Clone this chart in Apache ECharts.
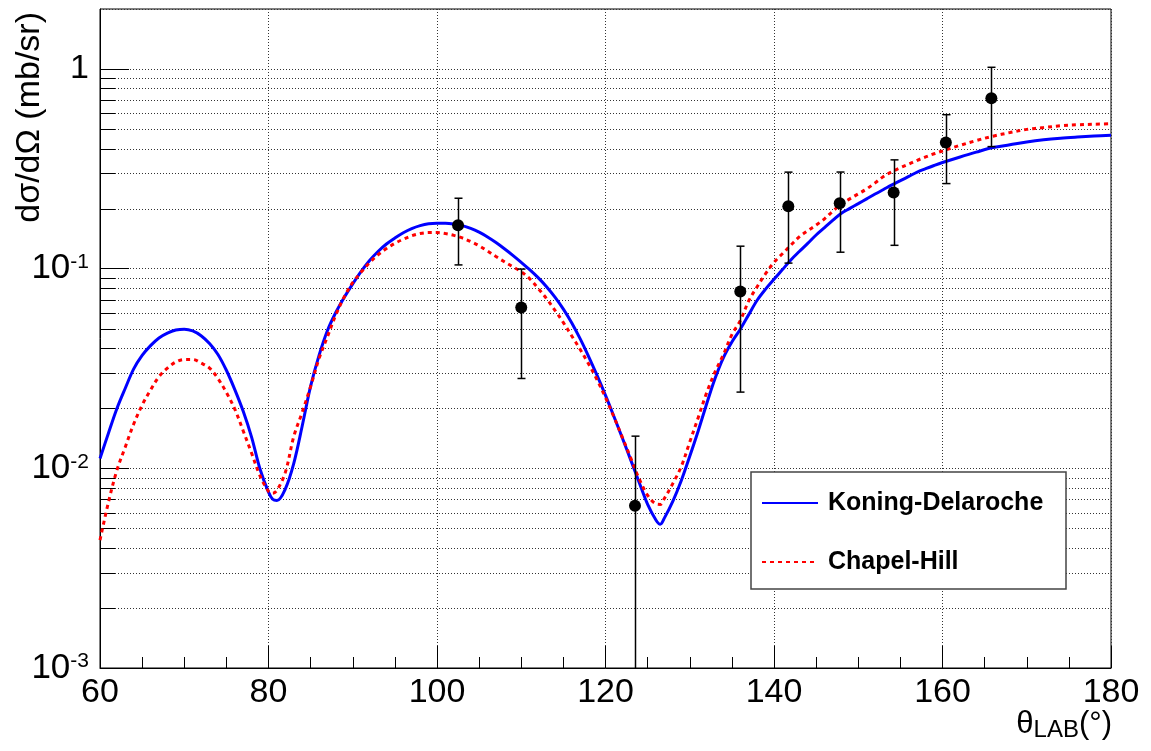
<!DOCTYPE html>
<html><head><meta charset="utf-8">
<script src="https://cdn.jsdelivr.net/npm/echarts@6/dist/echarts.min.js"></script>
<style>html,body{margin:0;padding:0;background:#fff}#c{width:1151px;height:751px}</style>
</head><body><div id="c"></div>
<script>
// ---- data ----
const thetaCurve = [60,61,62,63,64,65,66,67,68,69,70,71,72,73,74,75,76,77,78,79,80,80.5,81,82,83,84,85,86,87,88,89,90,
  91,92,93,94,95,96,97,98,99,100,101,102,103,104,105,106,107,108,109,110,111,112,113,114,115,116,117,118,119,120,
  121,122,123,124,125,126,126.5,127,128,129,130,131,132,133,134,135,136,137,138,139,140,141,142,143,144,145,146,147,148,149,150,
  151,152,153,154,155,156,157,158,159,160,162,164,166,168,170,172,174,176,178,180];
const koningDelaroche = [0.0112,0.0150,0.0199,0.0252,0.0315,0.0368,0.0412,0.0450,0.0476,0.0493,0.0498,0.0488,0.0462,0.0422,0.0372,0.0310,0.0248,0.0193,0.0143,0.0099,0.0076,0.0070,0.0069,0.0079,0.0106,0.0163,0.0258,0.0368,0.0490,0.0605,0.0720,0.0840,
  0.0970,0.1100,0.1220,0.1330,0.1425,0.1515,0.1590,0.1645,0.1680,0.1690,0.1690,0.1675,0.1644,0.1592,0.1524,0.1442,0.1352,0.1259,0.1167,0.1076,0.0989,0.0902,0.0813,0.0721,0.0628,0.0535,0.0445,0.0363,0.0292,0.0232,
  0.0182,0.0142,0.0110,0.0085,0.0066,0.0055,0.00525,0.00565,0.00686,0.0087,0.0115,0.0154,0.0210,0.0282,0.0359,0.0430,0.0498,0.0589,0.0695,0.0790,0.0885,0.0990,0.1107,0.1220,0.1340,0.1476,0.1607,0.1750,0.1897,0.2005,0.2118,
  0.2239,0.2366,0.2495,0.2630,0.2760,0.2900,0.3050,0.3170,0.3289,0.3404,0.3620,0.3837,0.4046,0.4178,0.4315,0.4426,0.4508,0.4570,0.4624,0.4667];
const chapelHill = [0.00437,0.00676,0.00977,0.0128,0.01667,0.02075,0.0247,0.0288,0.0318,0.0341,0.0351,0.0351,0.0337,0.0318,0.0282,0.0240,0.0198,0.0154,0.0119,0.00916,0.00767,0.0075,0.00776,0.00955,0.01445,0.0191,0.0257,0.0355,0.0457,0.0589,0.0724,0.0853,
  0.0962,0.1072,0.1175,0.1262,0.1340,0.1406,0.1462,0.1500,0.1517,0.1517,0.1500,0.1469,0.1426,0.1368,0.1303,0.1227,0.1151,0.1084,0.1023,0.0966,0.0891,0.0798,0.0708,0.0619,0.0537,0.0460,0.0394,0.0333,0.0278,0.0226,
  0.0181,0.01429,0.01127,0.00885,0.00733,0.00664,0.0066,0.00708,0.00841,0.01023,0.01355,0.01795,0.0239,0.0304,0.0372,0.0468,0.0550,0.0690,0.0813,0.0944,0.1076,0.1189,0.1312,0.1445,0.1549,0.1656,0.1778,0.1945,0.2113,0.2239,0.2371,
  0.2512,0.2692,0.2897,0.3062,0.3206,0.3342,0.3491,0.3631,0.3767,0.3890,0.4140,0.4385,0.4613,0.4808,0.4989,0.5093,0.5200,0.5260,0.5297,0.5320];
const thetaData = [102.5,110.0,123.5,136.0,141.7,147.8,154.2,160.4,165.8];
const sigmaData = [0.165,0.0639,0.0065,0.0769,0.2057,0.213,0.241,0.429,0.715];
const sigmaErr  = [0.0605,0.0357,0.0080,0.0528,0.099,0.092,0.110,0.162,0.306];
const xRange = [60, 180];
const xStep = 20;
const yRange = [0.001, 2];
const seriesNames = ['Koning-Delaroche', 'Chapel-Hill'];
const yTitle = 'dσ/dΩ (mb/sr)';

// minor log tick values (2..9 × 10^k)
const yMinor = [];
for (let k = -3; k <= 0; k++) for (let m = 2; m <= 9; m++) { const v = m * Math.pow(10, k); if (v < yRange[1]) yMinor.push(v); }

const FONT = 'Liberation Sans, Arial, Helvetica, sans-serif';
const chart = echarts.init(document.getElementById('c'), null, {renderer: 'canvas'});

function supLabel(v) {
  const e = Math.round(Math.log10(v));
  if (Math.abs(v / Math.pow(10, e) - 1) > 1e-6) return '';
  if (e === 0) return '1';
  return '{b|10}{s|' + e + '}';
}

const option = {
  animation: false,
  backgroundColor: '#fff',
  grid: {left: 100, right: 40, top: 9, bottom: 83, show: true, borderColor: '#000', borderWidth: 1, backgroundColor: 'transparent'},
  xAxis: {
    type: 'value', min: xRange[0], max: xRange[1], interval: xStep,
    axisLine: {lineStyle: {color: '#000', width: 1}},
    axisTick: {inside: true, length: 22, lineStyle: {color: '#000', width: 1}},
    minorTick: {show: true, splitNumber: 4, length: 11, lineStyle: {color: '#000', width: 1}},
    splitLine: {show: true, lineStyle: {color: '#333', width: 1, type: [1, 2]}},
    axisLabel: {color: '#000', fontSize: 34, fontFamily: FONT, margin: 8}
  },
  yAxis: {
    type: 'log', logBase: 10, min: yRange[0], max: yRange[1],
    axisLine: {lineStyle: {color: '#000', width: 1}},
    axisTick: {inside: true, length: 29, lineStyle: {color: '#000', width: 1}},
    splitLine: {show: true, lineStyle: {color: '#333', width: 1, type: [1, 2]}},
    axisLabel: {
      color: '#000', fontFamily: FONT, fontSize: 34, margin: 11, showMaxLabel: false,
      formatter: supLabel,
      rich: {
        b: {fontSize: 35, fontFamily: FONT, color: '#000', lineHeight: 34},
        s: {fontSize: 21, fontFamily: FONT, color: '#000', lineHeight: 21, verticalAlign: 'top'}
      }
    }
  },
  legend: {
    orient: 'vertical', left: 751, top: 472, padding: [16, 6, 12, 10], itemGap: 29, itemWidth: 56, itemHeight: 14,
    backgroundColor: '#fff', borderColor: '#444', borderWidth: 1.5,
    itemStyle: {opacity: 0},
    textStyle: {fontFamily: FONT, fontWeight: 'bold', fontSize: 25, color: '#000', lineHeight: 30, width: 232, padding: [0, 0, 0, 5]},
    data: seriesNames
  },
  graphic: [
    {type: 'text', x: 30, y: 12, rotation: Math.PI / 2, z: 100,
     style: {text: yTitle, fontSize: 34, fontFamily: FONT, fill: '#000', align: 'right', verticalAlign: 'middle'}},
    {type: 'text', x: 1112, y: 724, z: 100,
     style: {text: '{t|θ}{s|LAB}{t|(°)}', align: 'right', verticalAlign: 'middle', fill: '#000',
       rich: {t: {fontSize: 31, fontFamily: FONT, lineHeight: 34, fill: '#000'},
              s: {fontSize: 24, fontFamily: FONT, lineHeight: 24, padding: [12, 0, 0, 0], fill: '#000'}}}}
  ],
  series: [
    {
      name: 'minorGrid', type: 'custom', silent: true, z: 1, clip: false,
      data: yMinor.map(v => [xRange[0], v]),
      renderItem: function (params, api) {
        const v = api.value(1);
        const p0 = api.coord([xRange[0], v]);
        const p1 = api.coord([xRange[1], v]);
        const y = Math.round(p0[1]) + 0.5;
        return {type: 'group', children: [
          {type: 'line', shape: {x1: p0[0], y1: y, x2: p1[0], y2: y}, style: {stroke: '#333', lineWidth: 1, lineDash: [1, 2]}},
          {type: 'line', shape: {x1: p0[0], y1: y, x2: p0[0] + 15, y2: y}, style: {stroke: '#000', lineWidth: 1}}
        ]};
      }
    },
    {
      name: seriesNames[0], type: 'line', symbol: 'none', showSymbol: false, smooth: 0.35, z: 3,
      data: thetaCurve.map((t, i) => [t, koningDelaroche[i]]),
      lineStyle: {color: '#0000ff', width: 3}, itemStyle: {color: '#0000ff'}
    },
    {
      name: seriesNames[1], type: 'line', symbol: 'none', showSymbol: false, smooth: 0.35, z: 4,
      data: thetaCurve.map((t, i) => [t, chapelHill[i]]),
      lineStyle: {color: '#ff0000', width: 3, type: [4, 4]}, itemStyle: {color: '#ff0000'}
    },
    {
      name: 'errors', type: 'custom', silent: true, z: 5,
      data: thetaData.map((t, i) => [t, sigmaData[i], sigmaErr[i]]),
      renderItem: function (params, api) {
        const x = api.value(0), y = api.value(1), e = api.value(2);
        const hi = api.coord([x, y + e]);
        const loV = y - e;
        const clipped = loV <= yRange[0];
        const lo = api.coord([x, clipped ? yRange[0] : loV]);
        const cx = Math.round(hi[0]) + 0.5;
        const ch = [
          {type: 'line', shape: {x1: cx, y1: hi[1], x2: cx, y2: lo[1]}, style: {stroke: '#000', lineWidth: 1.5}},
          {type: 'line', shape: {x1: cx - 4, y1: hi[1], x2: cx + 4, y2: hi[1]}, style: {stroke: '#000', lineWidth: 1.5}}
        ];
        if (!clipped) ch.push({type: 'line', shape: {x1: cx - 4, y1: lo[1], x2: cx + 4, y2: lo[1]}, style: {stroke: '#000', lineWidth: 1.5}});
        return {type: 'group', children: ch};
      }
    },
    {
      name: 'data', type: 'scatter', z: 6, symbol: 'circle', symbolSize: 12,
      itemStyle: {color: '#000', opacity: 1},
      data: thetaData.map((t, i) => [t, sigmaData[i]])
    }
  ]
};
chart.setOption(option);
</script>
</body></html>
